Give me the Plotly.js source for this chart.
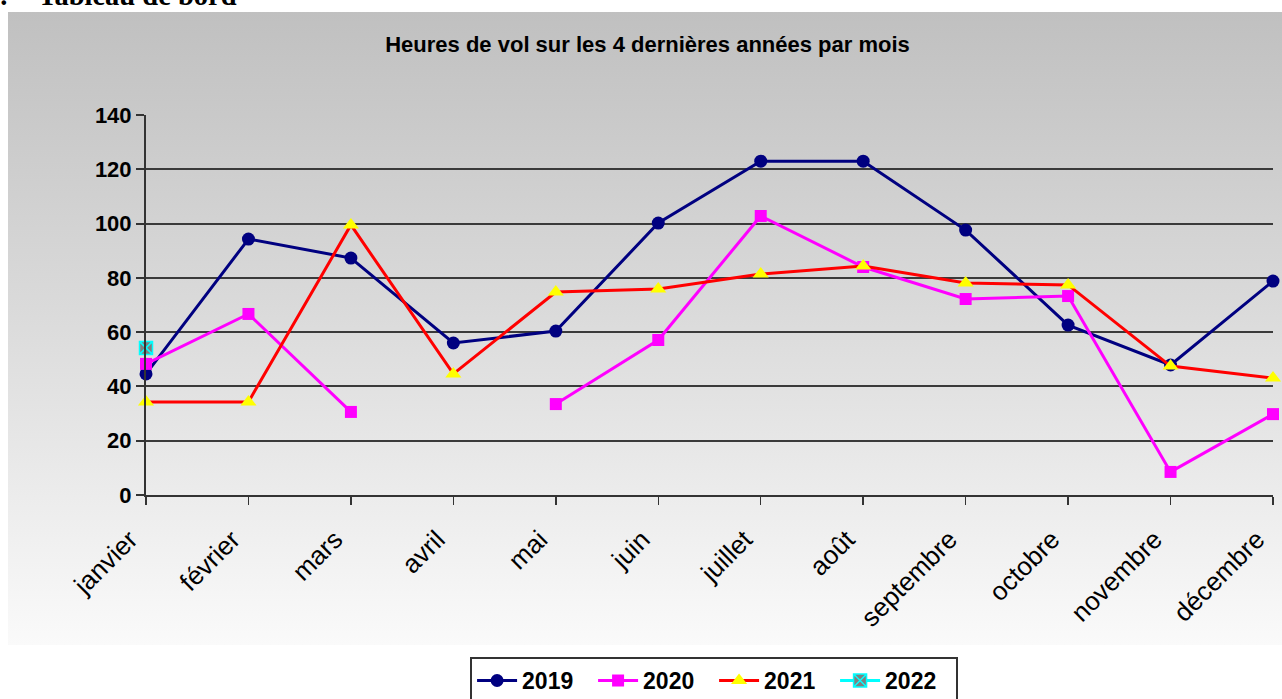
<!DOCTYPE html>
<html>
<head>
<meta charset="utf-8">
<script src="https://cdn.plot.ly/plotly-3.0.1.min.js"></script>
<style>
  html, body { margin:0; padding:0; background:#fff; width:1282px; height:699px; overflow:hidden; }
  #bg { position:absolute; left:8px; top:12px; width:1274px; height:633px;
        background: linear-gradient(to bottom, #c0c0c0 0%, #d9d9d9 45%, #fafafa 100%); }
  .hdr { position:absolute; top:-21px; font-family:"Liberation Serif", "Times New Roman", serif;
         font-weight:bold; font-size:28.5px; line-height:34px; color:#000; white-space:pre; }
  #chart { position:absolute; left:0; top:0; width:1282px; height:699px; }
</style>
</head>
<body>
<div id="bg"></div>
<div class="hdr" style="left:-14px">3.</div>
<div class="hdr" style="left:38px">Tableau de bord</div>
<div id="chart"></div>
<script>
const months = ["janvier","février","mars","avril","mai","juin","juillet","août","septembre","octobre","novembre","décembre"];
const v2019 = [44.6, 94.3, 87.3, 56, 60.4, 100.2, 123, 123, 97.6, 62.6, 47.9, 78.8];
const v2020 = [48.3, 66.7, 30.6, null, 33.5, 57.1, 102.8, 84, 72.2, 73.3, 8.5, 29.8];
const v2021 = [34.3, 34.3, 99.5, 44.6, 74.8, 75.9, 81.4, 84.4, 78.1, 77.4, 47.5, 43.1];
const v2022 = [54.2, null, null, null, null, null, null, null, null, null, null, null];
const yTicks = [0, 20, 40, 60, 80, 100, 120, 140];

const traces = [
  {name:"2019", x:months, y:v2019, mode:"lines+markers", cliponaxis:false,
   line:{color:"#000080", width:3}, marker:{symbol:"circle", size:13, color:"#000080"}},
  {name:"2020", x:months, y:v2020, mode:"lines+markers", cliponaxis:false, connectgaps:false,
   line:{color:"#ff00ff", width:3}, marker:{symbol:"square", size:12, color:"#ff00ff"}},
  {name:"2021", x:months, y:v2021, mode:"lines+markers", cliponaxis:false,
   line:{color:"#ff0000", width:3}, marker:{symbol:"triangle-up", size:14, color:"#ffff00"}},
  {name:"2022", x:months, y:v2022, mode:"lines+markers", cliponaxis:false,
   line:{color:"#00ffff", width:3}, marker:{symbol:"square-x", size:13, color:"#808080", line:{color:"#00ffff", width:1.5}}}
];

const layout = {
  width:1282, height:699,
  paper_bgcolor:"rgba(0,0,0,0)", plot_bgcolor:"rgba(0,0,0,0)",
  margin:{l:146, r:9, t:115, b:204},
  showlegend:true,
  title:{text:"Heures de vol sur les 4 dernières années par mois",
         font:{family:"Liberation Sans, Arial, sans-serif", size:22, color:"#000", weight:"bold"},
         xref:"paper", x:0.445, xanchor:"center", yref:"container", y:0.937, yanchor:"middle"},
  xaxis:{type:"category", range:[0, 11], showgrid:false, zeroline:false, automargin:false,
         showline:true, linecolor:"#333", linewidth:2,
         ticks:"outside", ticklen:8, tickwidth:1.5, tickcolor:"#333",
         tickangle:-45, ticklabelstandoff:9, ticklabelshift:-16,
         tickfont:{family:"Liberation Sans, Arial, sans-serif", size:26, color:"#000"}},
  yaxis:{range:[0,140], tickvals:yTicks, showgrid:true, gridcolor:"#3a3a3a", gridwidth:2,
         zeroline:false, showline:true, linecolor:"#333", linewidth:2, automargin:false,
         ticks:"outside", ticklen:8, tickwidth:2, tickcolor:"#333",
         tickfont:{family:"Liberation Sans, Arial, sans-serif", size:22, color:"#000", weight:"bold"}},
  legend:{orientation:"h", xref:"container", x:0.557, xanchor:"center",
          yref:"container", y:0.06, yanchor:"top",
          bgcolor:"#ffffff", bordercolor:"#333", borderwidth:2,
          font:{family:"Liberation Sans, Arial, sans-serif", size:23, color:"#000", weight:"bold"},
          entrywidth:66, entrywidthmode:"pixels", itemwidth:40, tracegroupgap:0}
};

Plotly.newPlot("chart", traces, layout, {displayModeBar:false, staticPlot:true});
</script>
</body>
</html>
